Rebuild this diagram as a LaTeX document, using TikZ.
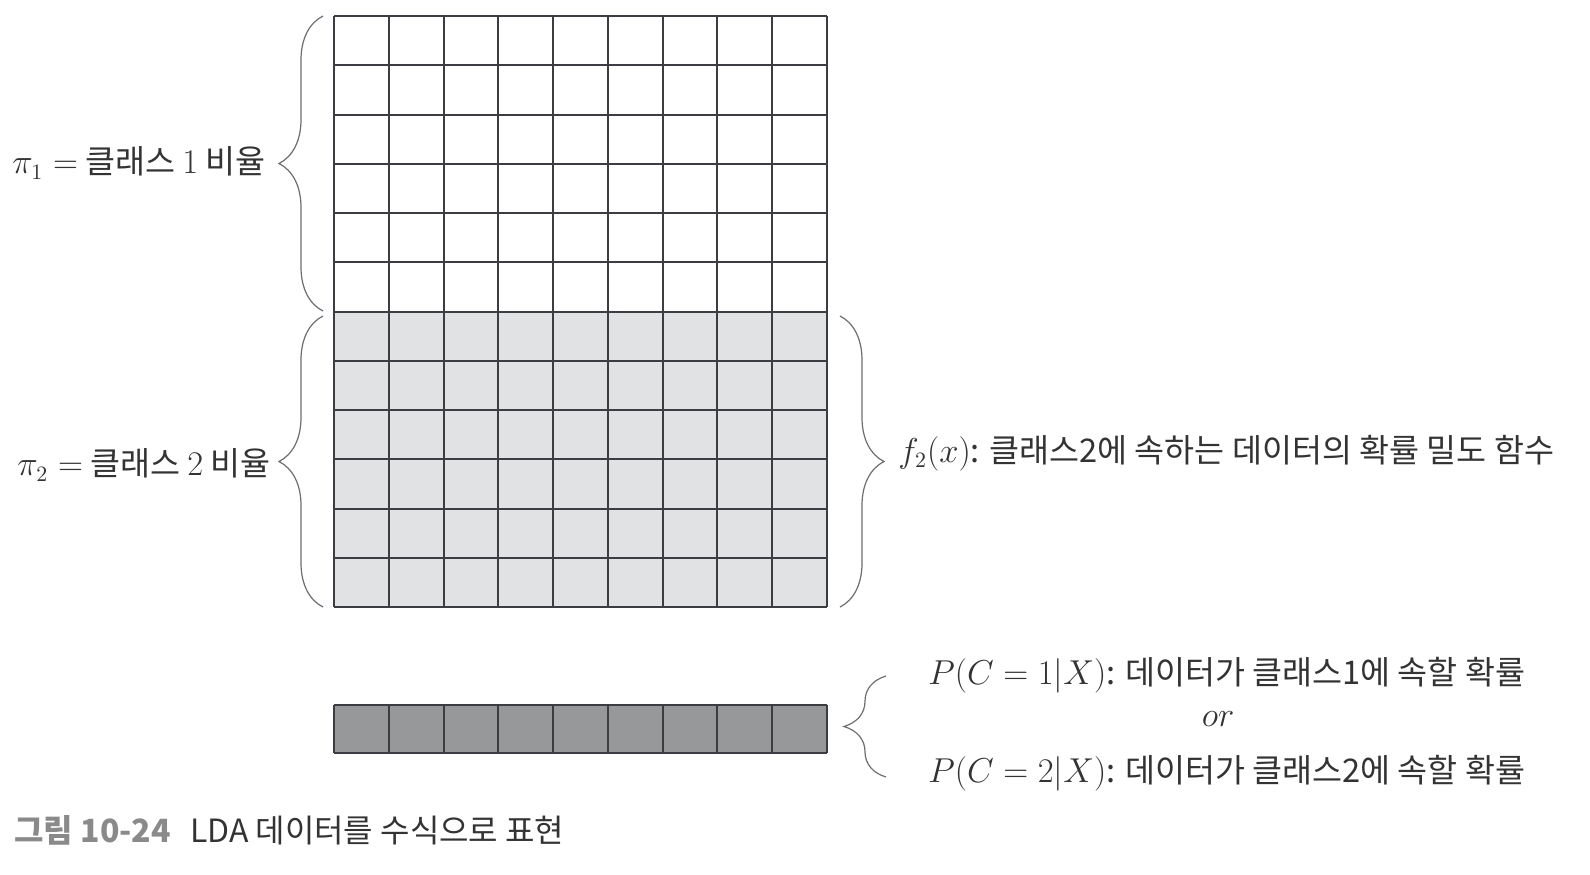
\documentclass[tikz,border=0pt]{standalone}
\usepackage{fontspec}
\newfontfamily\kr{Noto Sans CJK KR}
\usetikzlibrary{decorations.pathreplacing}
\definecolor{lgray}{HTML}{E1E2E4}
\definecolor{dgray}{HTML}{97989A}
\definecolor{gridc}{HTML}{3C3C42}
\definecolor{bracec}{HTML}{6E6E72}
\definecolor{txt}{HTML}{333333}
\definecolor{capgray}{HTML}{8A8A8A}
\tikzset{
  gridline/.style={draw=gridc, line width=1pt},
  bracestyle/.style={draw=bracec, line width=0.6pt, decorate, decoration={brace, amplitude=#1}},
  lbl/.style={text=txt, font=\kr\fontsize{16.3}{19}\selectfont, inner sep=0pt},
  caplbl/.style={text=txt, font=\kr\fontsize{16}{19}\selectfont, inner sep=0pt},
}
\begin{document}
\begin{tikzpicture}[x=0.5pt,y=-0.5pt]
\useasboundingbox (0,0) rectangle (1590,874);
\fill[white] (0,0) rectangle (1590,874);
% blocks
\coordinate (topTL) at (334,16);
\coordinate (midL) at (334,311);
\coordinate (botR) at (827,607);
\coordinate (stripTL) at (334,705);
\coordinate (stripBR) at (827,753);
\fill[lgray] (midL) rectangle (botR);
\fill[dgray] (stripTL) rectangle (stripBR);
\foreach \i in {0,...,9} {
  \draw[gridline] ({334+\i*54.778},16) -- ({334+\i*54.778},607);
  \draw[gridline] ({334+\i*54.778},705) -- ({334+\i*54.778},753);
}
\foreach \j in {0,...,12} {
  \draw[gridline] (334,{16+\j*49.25}) -- (827,{16+\j*49.25});
}
\draw[gridline] (stripTL) -- (827,705);
\draw[gridline] (334,753) -- (stripBR);
% braces
\coordinate (b1s) at (323,311); \coordinate (b1e) at (323,16);
\coordinate (b2s) at (323,607); \coordinate (b2e) at (323,316);
\coordinate (b3s) at (840,316); \coordinate (b3e) at (840,607);
\coordinate (b4s) at (886,777); \coordinate (b4e) at (886,676);
\draw[bracestyle=22pt] (b1s) -- (b1e);
\draw[bracestyle=22pt] (b2s) -- (b2e);
\draw[bracestyle=22pt] (b3s) -- (b3e);
\draw[bracestyle=21pt] (b4s) -- (b4e);
% labels
\node[lbl, anchor=east] (pi1) at (266,163) {$\pi_1 =$ 클래스 $1$ 비율};
\node[lbl, anchor=east] (pi2) at (271,465) {$\pi_2 =$ 클래스 $2$ 비율};
\node[lbl, anchor=west] (f2) at (898,453) {$f_2(x)$: 클래스2에 속하는 데이터의 확률 밀도 함수};
\node[lbl, anchor=west] (p1) at (928,675) {$P(C = 1|X)$: 데이터가 클래스1에 속할 확률};
\node[lbl] (or) at (1218,719) {$or$};
\node[lbl, anchor=west] (p2) at (928,773) {$P(C = 2|X)$: 데이터가 클래스2에 속할 확률};
\node[caplbl, anchor=west] (cap) at (14,830) {{\bfseries\color{capgray}그림 10-24}\hspace{0.6em}LDA 데이터를 수식으로 표현};
\end{tikzpicture}
\end{document}
